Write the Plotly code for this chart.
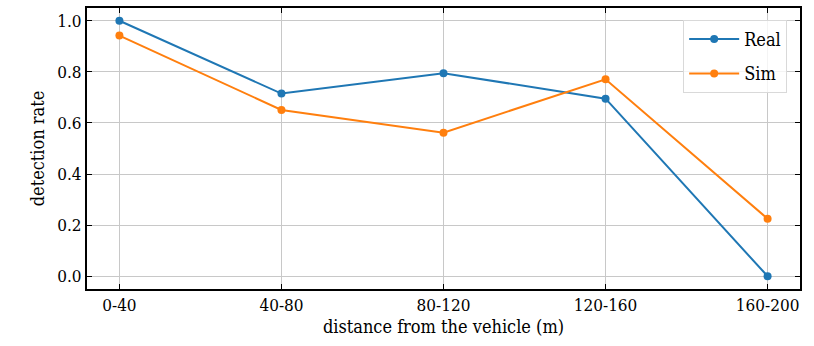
import plotly.graph_objects as go

categories = ["0-40", "40-80", "80-120", "120-160", "160-200"]
real = [1.0, 0.715, 0.795, 0.695, 0.0]
sim = [0.942, 0.651, 0.562, 0.771, 0.225]
y_ticks = [0.0, 0.2, 0.4, 0.6, 0.8, 1.0]

font = "'DejaVu Serif Condensed', 'DejaVu Serif', serif"
x_idx = list(range(len(categories)))

fig = go.Figure()
fig.add_trace(go.Scatter(x=x_idx, y=real, mode="lines+markers", name="Real", legendgroup="a",
                         line=dict(color="#1f77b4", width=2), marker=dict(size=8, color="#1f77b4")))
fig.add_trace(go.Scatter(x=x_idx, y=sim, mode="lines+markers", name="Sim", legendgroup="b",
                         line=dict(color="#ff7f0e", width=2), marker=dict(size=8, color="#ff7f0e")))

axis_common = dict(showline=True, linecolor="black", linewidth=2, mirror="ticks",
                   ticks="inside", ticklen=5, tickcolor="black", tickwidth=1,
                   showgrid=True, gridcolor="#c8c8c8", gridwidth=1, zeroline=False,
                   tickfont=dict(family=font, size=17, color="black"))

fig.update_layout(
    width=814, height=346,
    margin=dict(l=87, r=14, t=6, b=57),
    plot_bgcolor="white", paper_bgcolor="white",
    font=dict(family=font, size=17, color="black"),
    xaxis=dict(range=[-0.2, 4.2], tickmode="array", tickvals=x_idx, ticktext=categories,
               title=dict(text="distance from the vehicle (m)", font=dict(family=font, size=18), standoff=6),
               **axis_common),
    yaxis=dict(range=[-0.05, 1.05], tickmode="array", tickvals=y_ticks,
               ticktext=[f"{v:.1f}" for v in y_ticks],
               title=dict(text="detection rate", font=dict(family=font, size=18), standoff=8),
               **axis_common),
    legend=dict(x=0.982, y=0.958, xanchor="right", yanchor="top",
                bgcolor="rgba(255,255,255,0.8)", bordercolor="#d9d9d9", borderwidth=1,
                font=dict(family=font, size=18), itemwidth=50,
                tracegroupgap=8, traceorder="grouped"),
    showlegend=True,
)

fig.write_html("out.html", config={"displayModeBar": False},
               post_script="document.body.style.margin='0';")
